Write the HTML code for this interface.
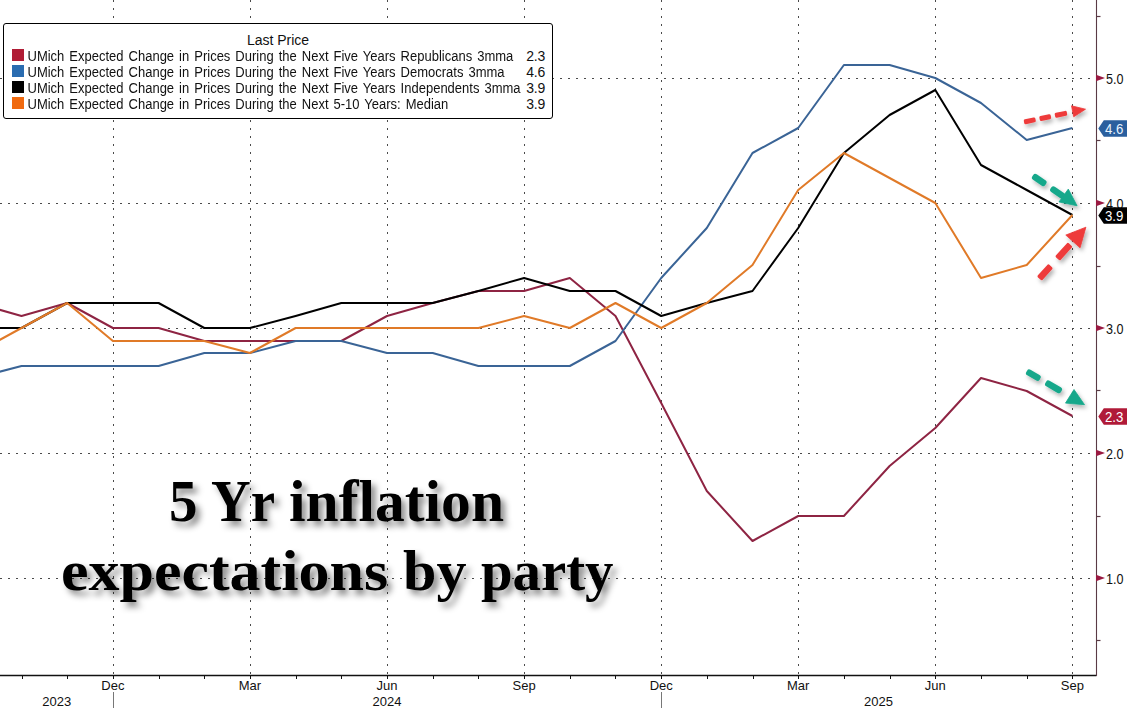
<!DOCTYPE html>
<html><head><meta charset="utf-8">
<style>
html,body{margin:0;padding:0;background:#fff;}
body{width:1127px;height:708px;position:relative;overflow:hidden;font-family:"Liberation Sans",sans-serif;}
svg{position:absolute;left:0;top:0;}
svg text{font-family:"Liberation Sans",sans-serif;}
#legend{position:absolute;left:3px;top:23px;width:548px;height:93.5px;border:1.5px solid #000;border-radius:3px;background:#fff;}
#legend .title{position:absolute;left:0;width:100%;top:8px;text-align:center;font-size:14px;color:#111;line-height:16px;}
#legend .row{position:absolute;left:7.5px;height:16px;font-size:13px;line-height:16px;color:#111;white-space:nowrap;word-spacing:1.4px;}
#legend .sw{position:absolute;left:0;top:1px;width:12px;height:12px;}
#legend .txt{position:absolute;left:16px;top:1px;transform:scaleY(1.075);transform-origin:0 12px;}
#legend .val{position:absolute;right:7px;height:16px;font-size:14px;line-height:16px;color:#111;letter-spacing:-0.2px;}
</style></head><body>
<svg width="1127" height="708" viewBox="0 0 1127 708">
<defs>
<filter id="tsh" x="-10%" y="-20%" width="130%" height="150%"><feDropShadow dx="4.5" dy="5" stdDeviation="3" flood-color="#000" flood-opacity="0.45"/></filter>
<filter id="ash" x="-30%" y="-30%" width="160%" height="160%"><feDropShadow dx="2" dy="3" stdDeviation="2" flood-color="#000" flood-opacity="0.3"/></filter>
</defs>
<line x1="113.5" y1="0" x2="113.5" y2="675" stroke="#4a4a4a" stroke-width="1" stroke-dasharray="2 6"/>
<line x1="250.5" y1="0" x2="250.5" y2="675" stroke="#4a4a4a" stroke-width="1" stroke-dasharray="2 6"/>
<line x1="387.5" y1="0" x2="387.5" y2="675" stroke="#4a4a4a" stroke-width="1" stroke-dasharray="2 6"/>
<line x1="524.5" y1="0" x2="524.5" y2="675" stroke="#4a4a4a" stroke-width="1" stroke-dasharray="2 6"/>
<line x1="661.5" y1="0" x2="661.5" y2="675" stroke="#4a4a4a" stroke-width="1" stroke-dasharray="2 6"/>
<line x1="798.5" y1="0" x2="798.5" y2="675" stroke="#4a4a4a" stroke-width="1" stroke-dasharray="2 6"/>
<line x1="935.5" y1="0" x2="935.5" y2="675" stroke="#4a4a4a" stroke-width="1" stroke-dasharray="2 6"/>
<line x1="1072.5" y1="0" x2="1072.5" y2="675" stroke="#4a4a4a" stroke-width="1" stroke-dasharray="2 6"/>
<line x1="0" y1="78.5" x2="1096.5" y2="78.5" stroke="#4a4a4a" stroke-width="1" stroke-dasharray="2 6"/>
<line x1="0" y1="203.5" x2="1096.5" y2="203.5" stroke="#4a4a4a" stroke-width="1" stroke-dasharray="2 6"/>
<line x1="0" y1="328.5" x2="1096.5" y2="328.5" stroke="#4a4a4a" stroke-width="1" stroke-dasharray="2 6"/>
<line x1="0" y1="453.5" x2="1096.5" y2="453.5" stroke="#4a4a4a" stroke-width="1" stroke-dasharray="2 6"/>
<line x1="0" y1="578.5" x2="1096.5" y2="578.5" stroke="#4a4a4a" stroke-width="1" stroke-dasharray="2 6"/>
<polyline points="-24.2,303 21.5,316 67.2,303 112.9,328 158.6,328 204.3,341 249.9,341 295.6,341 341.3,341 387.0,316 432.7,303 478.4,291 524.1,291 569.8,278 615.5,316 661.2,403 706.8,491 752.5,541 798.2,516 843.9,516 889.6,466 935.3,428 981.0,378 1026.7,391 1072.4,416" fill="none" stroke="#8e2443" stroke-width="2" stroke-linejoin="round"/>
<polyline points="-24.2,378 21.5,366 67.2,366 112.9,366 158.6,366 204.3,353 249.9,353 295.6,341 341.3,341 387.0,353 432.7,353 478.4,366 524.1,366 569.8,366 615.5,341 661.2,278 706.8,228 752.5,153 798.2,128 843.9,65 889.6,65 935.3,78 981.0,103 1026.7,140 1072.4,128" fill="none" stroke="#3a6496" stroke-width="2" stroke-linejoin="round"/>
<polyline points="-24.2,328 21.5,328 67.2,303 112.9,303 158.6,303 204.3,328 249.9,328 295.6,316 341.3,303 387.0,303 432.7,303 478.4,291 524.1,278 569.8,291 615.5,291 661.2,316 706.8,303 752.5,291 798.2,228 843.9,153 889.6,115 935.3,90 981.0,165 1026.7,190 1072.4,215" fill="none" stroke="#000" stroke-width="2" stroke-linejoin="round"/>
<polyline points="-24.2,353 21.5,328 67.2,303 112.9,341 158.6,341 204.3,341 249.9,353 295.6,328 341.3,328 387.0,328 432.7,328 478.4,328 524.1,316 569.8,328 615.5,303 661.2,328 706.8,303 752.5,265 798.2,190 843.9,153 889.6,178 935.3,203 981.0,278 1026.7,265 1072.4,215" fill="none" stroke="#e07a28" stroke-width="2" stroke-linejoin="round"/>
<line x1="0" y1="675.5" x2="1096.5" y2="675.5" stroke="#111" stroke-width="1.4"/>
<line x1="22.5" y1="675" x2="22.5" y2="679" stroke="#111" stroke-width="1"/>
<line x1="67.5" y1="675" x2="67.5" y2="679" stroke="#111" stroke-width="1"/>
<line x1="113.5" y1="675" x2="113.5" y2="679" stroke="#111" stroke-width="1"/>
<line x1="159.5" y1="675" x2="159.5" y2="679" stroke="#111" stroke-width="1"/>
<line x1="204.5" y1="675" x2="204.5" y2="679" stroke="#111" stroke-width="1"/>
<line x1="250.5" y1="675" x2="250.5" y2="679" stroke="#111" stroke-width="1"/>
<line x1="296.5" y1="675" x2="296.5" y2="679" stroke="#111" stroke-width="1"/>
<line x1="341.5" y1="675" x2="341.5" y2="679" stroke="#111" stroke-width="1"/>
<line x1="387.5" y1="675" x2="387.5" y2="679" stroke="#111" stroke-width="1"/>
<line x1="433.5" y1="675" x2="433.5" y2="679" stroke="#111" stroke-width="1"/>
<line x1="478.5" y1="675" x2="478.5" y2="679" stroke="#111" stroke-width="1"/>
<line x1="524.5" y1="675" x2="524.5" y2="679" stroke="#111" stroke-width="1"/>
<line x1="570.5" y1="675" x2="570.5" y2="679" stroke="#111" stroke-width="1"/>
<line x1="615.5" y1="675" x2="615.5" y2="679" stroke="#111" stroke-width="1"/>
<line x1="661.5" y1="675" x2="661.5" y2="679" stroke="#111" stroke-width="1"/>
<line x1="707.5" y1="675" x2="707.5" y2="679" stroke="#111" stroke-width="1"/>
<line x1="753.5" y1="675" x2="753.5" y2="679" stroke="#111" stroke-width="1"/>
<line x1="798.5" y1="675" x2="798.5" y2="679" stroke="#111" stroke-width="1"/>
<line x1="844.5" y1="675" x2="844.5" y2="679" stroke="#111" stroke-width="1"/>
<line x1="890.5" y1="675" x2="890.5" y2="679" stroke="#111" stroke-width="1"/>
<line x1="935.5" y1="675" x2="935.5" y2="679" stroke="#111" stroke-width="1"/>
<line x1="981.5" y1="675" x2="981.5" y2="679" stroke="#111" stroke-width="1"/>
<line x1="1027.5" y1="675" x2="1027.5" y2="679" stroke="#111" stroke-width="1"/>
<line x1="1072.5" y1="675" x2="1072.5" y2="679" stroke="#111" stroke-width="1"/>
<line x1="1096.5" y1="0" x2="1096.5" y2="676" stroke="#5a3a45" stroke-width="1.1"/>
<line x1="1096.5" y1="16.5" x2="1100.5" y2="16.5" stroke="#5a3a45" stroke-width="1.2"/>
<line x1="1096.5" y1="140.5" x2="1100.5" y2="140.5" stroke="#5a3a45" stroke-width="1.2"/>
<line x1="1096.5" y1="266.5" x2="1100.5" y2="266.5" stroke="#5a3a45" stroke-width="1.2"/>
<line x1="1096.5" y1="390.5" x2="1100.5" y2="390.5" stroke="#5a3a45" stroke-width="1.2"/>
<line x1="1096.5" y1="516.5" x2="1100.5" y2="516.5" stroke="#5a3a45" stroke-width="1.2"/>
<line x1="1096.5" y1="640.5" x2="1100.5" y2="640.5" stroke="#5a3a45" stroke-width="1.2"/>
<polygon points="1096.0,74.8 1105.0,78 1096.0,81.2" fill="#9a1a42"/>
<text x="1106" y="83.6" font-size="14" fill="#111" textLength="17.5" lengthAdjust="spacingAndGlyphs">5.0</text>
<polygon points="1096.0,199.8 1105.0,203 1096.0,206.2" fill="#9a1a42"/>
<text x="1106" y="208.6" font-size="14" fill="#111" textLength="17.5" lengthAdjust="spacingAndGlyphs">4.0</text>
<polygon points="1096.0,324.8 1105.0,328 1096.0,331.2" fill="#9a1a42"/>
<text x="1106" y="333.6" font-size="14" fill="#111" textLength="17.5" lengthAdjust="spacingAndGlyphs">3.0</text>
<polygon points="1096.0,449.8 1105.0,453 1096.0,456.2" fill="#9a1a42"/>
<text x="1106" y="458.6" font-size="14" fill="#111" textLength="17.5" lengthAdjust="spacingAndGlyphs">2.0</text>
<polygon points="1096.0,574.8 1105.0,578 1096.0,581.2" fill="#9a1a42"/>
<text x="1106" y="583.6" font-size="14" fill="#111" textLength="17.5" lengthAdjust="spacingAndGlyphs">1.0</text>
<text x="112.9" y="690" font-size="13" fill="#111" text-anchor="middle">Dec</text>
<text x="249.9" y="690" font-size="13" fill="#111" text-anchor="middle">Mar</text>
<text x="387.0" y="690" font-size="13" fill="#111" text-anchor="middle">Jun</text>
<text x="524.1" y="690" font-size="13" fill="#111" text-anchor="middle">Sep</text>
<text x="661.2" y="690" font-size="13" fill="#111" text-anchor="middle">Dec</text>
<text x="798.2" y="690" font-size="13" fill="#111" text-anchor="middle">Mar</text>
<text x="935.3" y="690" font-size="13" fill="#111" text-anchor="middle">Jun</text>
<text x="1072.4" y="690" font-size="13" fill="#111" text-anchor="middle">Sep</text>
<text x="56.8" y="706" font-size="13" fill="#111" text-anchor="middle">2023</text>
<text x="387" y="706" font-size="13" fill="#111" text-anchor="middle">2024</text>
<text x="878.5" y="706" font-size="13" fill="#111" text-anchor="middle">2025</text>
<line x1="113.5" y1="692" x2="113.5" y2="708" stroke="#777" stroke-width="1"/>
<line x1="661.5" y1="692" x2="661.5" y2="708" stroke="#777" stroke-width="1"/>
<polygon points="1098.3,128.5 1103.8,120.2 1127,120.2 1127,136.8 1103.8,136.8" fill="#2a5f9e"/><text x="1105" y="133.7" font-size="14" fill="#e8f4ff" textLength="18.4" lengthAdjust="spacingAndGlyphs">4.6</text>
<polygon points="1098.3,215.5 1103.8,207.2 1127,207.2 1127,223.8 1103.8,223.8" fill="#000"/><text x="1105" y="220.7" font-size="14" fill="#fff" textLength="18.4" lengthAdjust="spacingAndGlyphs">3.9</text>
<polygon points="1098.3,416.5 1103.8,408.2 1127,408.2 1127,424.8 1103.8,424.8" fill="#b01a38"/><text x="1105" y="421.7" font-size="14" fill="#fff" textLength="18.4" lengthAdjust="spacingAndGlyphs">2.3</text>
<g filter="url(#tsh)" font-family="Liberation Serif, serif" font-weight="bold" font-size="58" fill="#000" text-anchor="middle">
<text x="169.00" y="520.5" font-size="59" text-anchor="start" textLength="28.50" lengthAdjust="spacingAndGlyphs" style="font-family:'Liberation Serif',serif">5</text>
<text x="211.00" y="520.5" font-size="59" text-anchor="start" textLength="64.00" lengthAdjust="spacingAndGlyphs" style="font-family:'Liberation Serif',serif">Yr</text>
<text x="289.00" y="520.5" font-size="59" text-anchor="start" textLength="215.00" lengthAdjust="spacingAndGlyphs" style="font-family:'Liberation Serif',serif">inflation</text>
<text x="61.00" y="590" font-size="58" text-anchor="start" textLength="327.00" lengthAdjust="spacingAndGlyphs" style="font-family:'Liberation Serif',serif">expectations</text>
<text x="403.00" y="590" font-size="58" text-anchor="start" textLength="63.50" lengthAdjust="spacingAndGlyphs" style="font-family:'Liberation Serif',serif">by</text>
<text x="481.00" y="590" font-size="58" text-anchor="start" textLength="132.50" lengthAdjust="spacingAndGlyphs" style="font-family:'Liberation Serif',serif">party</text>
</g>
<g filter="url(#ash)"><rect x="0.0" y="-2.50" width="11.8" height="5" rx="1.5" fill="#ee3b3b" transform="translate(1024,122) rotate(-11.76)"/><rect x="15.9" y="-2.50" width="11.6" height="5" rx="1.5" fill="#ee3b3b" transform="translate(1024,122) rotate(-11.76)"/><rect x="31.6" y="-2.50" width="12.3" height="5" rx="1.5" fill="#ee3b3b" transform="translate(1024,122) rotate(-11.76)"/><polygon points="1085.5,109.2 1071.5,105.8 1073.7,116.8" fill="#ee3b3b" stroke="#ee3b3b" stroke-width="0.8" stroke-linejoin="round"/></g>
<g filter="url(#ash)"><rect x="0.0" y="-3.25" width="15.6" height="6.5" rx="2.5" fill="#17a88b" transform="translate(1032.8,175.6) rotate(34.28)"/><rect x="22.0" y="-3.25" width="16.0" height="6.5" rx="2.5" fill="#17a88b" transform="translate(1032.8,175.6) rotate(34.28)"/><polygon points="1077.1,205.8 1068.3,189.1 1059,201.9" fill="#17a88b" stroke="#17a88b" stroke-width="0.8" stroke-linejoin="round"/></g>
<g filter="url(#ash)"><rect x="0.0" y="-3.25" width="17.0" height="6.5" rx="1.5" fill="#ee3b3b" transform="translate(1039.3,278.6) rotate(-47.80)"/><rect x="27.0" y="-3.25" width="19.0" height="6.5" rx="1.5" fill="#ee3b3b" transform="translate(1039.3,278.6) rotate(-47.80)"/><polygon points="1085.9,227.2 1065.8,235.1 1080.1,247.8" fill="#ee3b3b" stroke="#ee3b3b" stroke-width="0.8" stroke-linejoin="round"/></g>
<g filter="url(#ash)"><rect x="0.0" y="-3.25" width="15.4" height="6.5" rx="2.5" fill="#17a88b" transform="translate(1026.7,371.3) rotate(30.02)"/><rect x="22.0" y="-3.25" width="18.0" height="6.5" rx="2.5" fill="#17a88b" transform="translate(1026.7,371.3) rotate(30.02)"/><polygon points="1084.5,404.7 1074,389.5 1065.5,403.1" fill="#17a88b" stroke="#17a88b" stroke-width="0.8" stroke-linejoin="round"/></g>
</svg>
<div id="legend">
<div class="title">Last Price</div>
<div class="row" style="top:24px"><div class="sw" style="background:#b01c35"></div><div class="txt">UMich Expected Change in Prices During the Next Five Years Republicans 3mma</div></div>
<div class="row" style="top:40px"><div class="sw" style="background:#2a6cb0"></div><div class="txt">UMich Expected Change in Prices During the Next Five Years Democrats 3mma</div></div>
<div class="row" style="top:56px"><div class="sw" style="background:#000"></div><div class="txt">UMich Expected Change in Prices During the Next Five Years Independents 3mma</div></div>
<div class="row" style="top:72px"><div class="sw" style="background:#f06a10"></div><div class="txt">UMich Expected Change in Prices During the Next 5-10 Years: Median</div></div>
<div class="val" style="top:24px">2.3</div>
<div class="val" style="top:40px">4.6</div>
<div class="val" style="top:56px">3.9</div>
<div class="val" style="top:72px">3.9</div>
</div>
</body></html>
